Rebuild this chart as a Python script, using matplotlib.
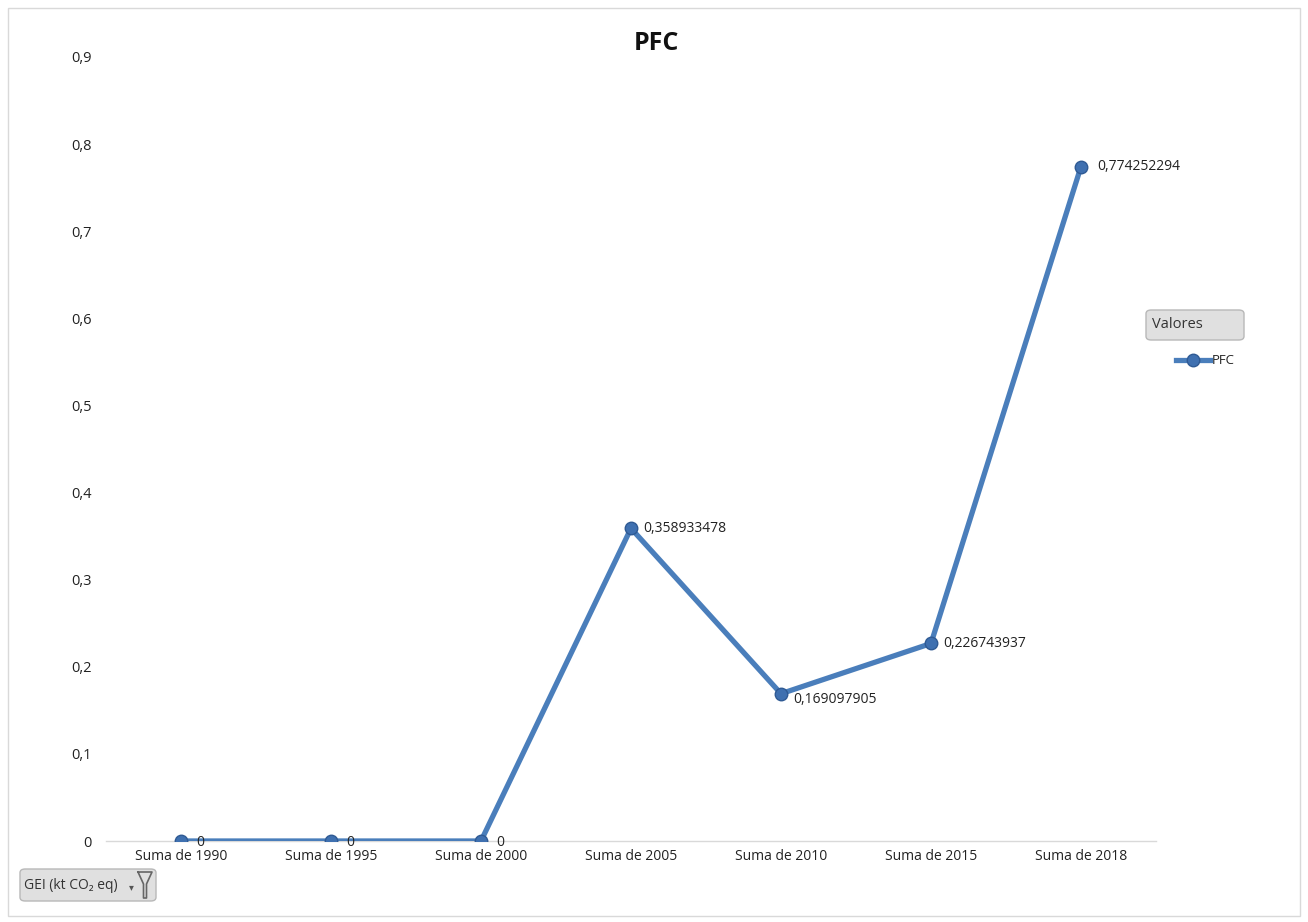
import matplotlib.pyplot as plt
from matplotlib.patches import FancyBboxPatch, Rectangle
from matplotlib.lines import Line2D

categories = ["Suma de 1990", "Suma de 1995", "Suma de 2000", "Suma de 2005",
              "Suma de 2010", "Suma de 2015", "Suma de 2018"]
values = [0, 0, 0, 0.358933478, 0.169097905, 0.226743937, 0.774252294]
labels = ["0", "0", "0", "0,358933478", "0,169097905", "0,226743937", "0,774252294"]
yticks = [0, 0.1, 0.2, 0.3, 0.4, 0.5, 0.6, 0.7, 0.8, 0.9]

plt.rcParams['font.family'] = ['Open Sans', 'DejaVu Sans']
line_color = '#4a7ebb'

fig = plt.figure(figsize=(13.08, 9.22), dpi=100)
# outer chart border
fig.patches.append(Rectangle((8 / 1308, 6 / 922), 1292 / 1308, 908 / 922,
                             transform=fig.transFigure, fill=False,
                             edgecolor='#d9d9d9', linewidth=1))

ax = fig.add_axes([106 / 1308, 81 / 922, 1050 / 1308, 784 / 922])
x = list(range(len(categories)))
ax.plot(x, values, color=line_color, linewidth=3.8, solid_capstyle='round',
        marker='o', markersize=9, markerfacecolor='#3f70b0',
        markeredgecolor='#2f5a94', markeredgewidth=1, zorder=3)

ax.set_xlim(-0.5, len(categories) - 0.5)
ax.set_ylim(0, 0.9)
ax.set_xticks(x)
ax.set_xticklabels(categories, fontsize=10, color='#222222')
ax.set_yticks(yticks)
ax.set_yticklabels([f"{t:g}".replace('.', ',') for t in yticks],
                   fontsize=10.5, color='#222222')
ax.tick_params(axis='both', length=0)
ax.tick_params(axis='y', pad=10)
ax.tick_params(axis='x', pad=6)
for s in ['top', 'right', 'left']:
    ax.spines[s].set_visible(False)
ax.spines['bottom'].set_color('#d9d9d9')
ax.spines['bottom'].set_linewidth(1)

# data labels
offsets = [(11, -1), (11, -1), (11, -1), (9, 0), (9, -4), (9, 0), (12, 0)]
for xi, v, lab, off in zip(x, values, labels, offsets):
    ax.annotate(lab, (xi, v), xytext=off, textcoords='offset points',
                ha='left', va='center', fontsize=10, color='#222222')

fig.text(656 / 1308, 1 - 44 / 922, "PFC", ha='center', va='center',
         fontsize=18, fontweight='bold', color='#111111')

# legend title button
fig.patches.append(FancyBboxPatch((1146 / 1308, 1 - 340 / 922), 98 / 1308, 30 / 922,
                                  boxstyle='round,pad=0,rounding_size=0.004',
                                  transform=fig.transFigure, facecolor='#e0e0e0',
                                  edgecolor='#b8b8b8', linewidth=1))
fig.text(1152 / 1308, 1 - 325 / 922, "Valores", ha='left', va='center',
         fontsize=10.5, color='#333333')
fig.lines.append(Line2D([1176 / 1308, 1210 / 1308], [1 - 360 / 922, 1 - 360 / 922],
                        transform=fig.transFigure, color=line_color, linewidth=3.8))
fig.lines.append(Line2D([1193 / 1308], [1 - 360 / 922], transform=fig.transFigure,
                        marker='o', markersize=9, markerfacecolor='#3f70b0',
                        markeredgecolor='#2f5a94', color=line_color))
fig.text(1212 / 1308, 1 - 360 / 922, "PFC", ha='left', va='center',
         fontsize=9.5, color='#222222')

# field button bottom-left
fig.patches.append(FancyBboxPatch((20 / 1308, 1 - 901 / 922), 136 / 1308, 32 / 922,
                                  boxstyle='round,pad=0,rounding_size=0.004',
                                  transform=fig.transFigure, facecolor='#e0e0e0',
                                  edgecolor='#b8b8b8', linewidth=1))
fig.text(24 / 1308, 1 - 885 / 922, "GEI (kt CO₂ eq)", ha='left', va='center',
         fontsize=10, color='#333333')
fig.text(131 / 1308, 1 - 887 / 922, "▾", ha='center', va='center',
         fontsize=7, color='#555555', family='DejaVu Sans')
fig.lines.append(Line2D([138 / 1308, 152 / 1308, 146.5 / 1308, 146.5 / 1308, 143.5 / 1308, 143.5 / 1308, 138 / 1308],
                        [1 - 872 / 922, 1 - 872 / 922, 1 - 884 / 922, 1 - 898 / 922, 1 - 898 / 922, 1 - 884 / 922, 1 - 872 / 922],
                        transform=fig.transFigure, color='#666666', linewidth=1.2))

fig.savefig('out.png', dpi=100)
